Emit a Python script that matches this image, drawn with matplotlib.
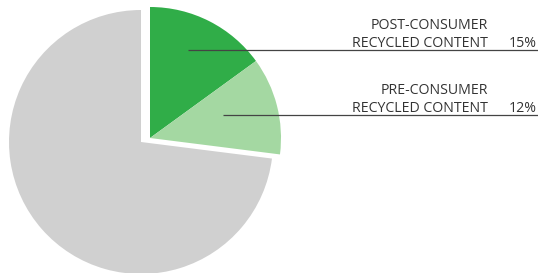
import matplotlib
matplotlib.use("Agg")
import matplotlib.pyplot as plt

labels_top = ["POST-CONSUMER", "PRE-CONSUMER"]
labels_bottom = ["RECYCLED CONTENT", "RECYCLED CONTENT"]
values = [15, 12]
other = 100 - sum(values)
pcts = ["15%", "12%"]

W, H = 538, 273
fig = plt.figure(figsize=(W / 100, H / 100), dpi=100)
ax = fig.add_axes([0, 0, 1, 1])

green_colors = ["#30ad48", "#a4d8a2"]
gray = "#d0d0d0"

# gray remainder
ax.pie(values + [other], colors=["none", "none", gray], startangle=90,
       counterclock=False, center=(141, H - 142), radius=132,
       wedgeprops=dict(linewidth=0))
# exploded green wedges
ax.pie(values + [other], colors=green_colors + ["none"], startangle=90,
       counterclock=False, center=(150, H - 138), radius=131,
       wedgeprops=dict(linewidth=0))

ax.set_xlim(0, W)
ax.set_ylim(0, H)
ax.set_aspect("equal")
ax.axis("off")

line_y = [49.5, 114.5]
line_x0 = [188, 223]
font = dict(family="Open Sans", fontsize=10.2, color="#333333")
for i in range(len(values)):
    yb = H - line_y[i]
    ax.plot([line_x0[i], W], [yb, yb], color="#444444", lw=0.9,
            solid_capstyle="butt")
    ax.text(488, yb + 2.5, labels_bottom[i], ha="right", va="baseline", **font)
    ax.text(488, yb + 20.5, labels_top[i], ha="right", va="baseline", **font)
    ax.text(537, yb + 2.5, pcts[i], ha="right", va="baseline", **font)

fig.savefig("out.png", dpi=100)
